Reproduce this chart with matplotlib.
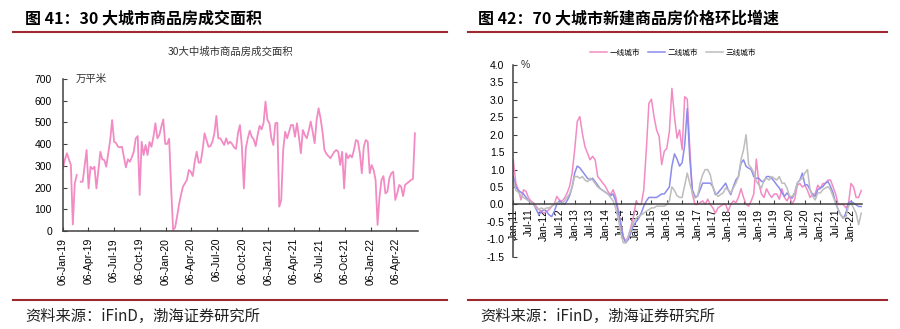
import numpy as np
import pandas as pd
import matplotlib
matplotlib.use("Agg")
import matplotlib.pyplot as plt
from matplotlib.lines import Line2D

# ---------------- data: left chart (weekly, 万平米) ----------------
area_start = "2019-01-06"
area_values = [
    289, 330, 358, 330, 304, 30, 220, 258, np.nan, 227,
    227, 300, 373, 196, 296, 285, 296, 196, 281, 365,
    330, 327, 296, 358, 419, 511, 411, 405, 388, 385,
    388, 340, 293, 330, 319, 339, 365, 427, 437, 166,
    411, 350, 396, 350, 410, 388, 434, 496, 427, 442,
    480, 514, 401, 401, 425, 200, 5, 15, 66, 120,
    166, 204, 220, 235, 281, 273, 253, 319, 365, 315,
    315, 373, 450, 419, 388, 391, 411, 450, 530, 427,
    427, 411, 396, 427, 401, 411, 401, 385, 378, 450,
    488, 388, 196, 381, 427, 462, 434, 422, 391, 442,
    484, 468, 496, 596, 511, 496, 427, 396, 496, 499,
    112, 143, 373, 457, 427, 457, 488, 488, 434, 496,
    434, 358, 465, 442, 427, 462, 504, 457, 404, 511,
    565, 519, 457, 373, 355, 345, 335, 350, 365, 373,
    365, 304, 365, 196, 358, 335, 350, 339, 373, 419,
    414, 358, 266, 388, 419, 411, 266, 304, 281, 235,
    28, 158, 235, 253, 173, 181, 243, 266, 273, 143,
    173, 212, 204, 161, 212, 220, 227, 235, 240, 450,
]
area_ticks = ["2019-01-06", "2019-04-06", "2019-07-06", "2019-10-06",
              "2020-01-06", "2020-04-06", "2020-07-06", "2020-10-06",
              "2021-01-06", "2021-04-06", "2021-07-06", "2021-10-06",
              "2022-01-06", "2022-04-06"]
area_ylim = (0, 700)

# ---------------- data: right chart (monthly MoM %, Jan-11 .. May-22) ----------------
tier1 = [
    1.28, 0.61, 0.42, 0.13, 0.42, 0.37, 0.18, 0.09, 0.04, -0.06,
    -0.15, -0.20, -0.25, -0.20, -0.15, -0.06, 0.00, 0.23, 0.13, 0.09,
    0.18, 0.32, 0.52, 0.90, 1.57, 2.38, 2.52, 2.04, 1.66, 1.47,
    1.28, 1.38, 1.28, 0.80, 0.71, 0.61, 0.52, 0.37, 0.28, 0.42,
    0.23, -0.15, -0.53, -0.92, -1.06, -0.92, -0.63, -0.34, 0.09, 0.00,
    0.00, 0.42, 1.57, 2.90, 3.02, 2.52, 2.14, 1.95, 1.14, 1.52,
    1.61, 2.09, 3.33, 2.52, 1.90, 2.14, 1.57, 3.09, 3.02, 1.60,
    0.30, 0.00, 0.00, 0.05, 0.10, 0.00, 0.15, 0.00, -0.10, -0.25,
    -0.10, -0.05, 0.00, 0.00, -0.20, 0.00, 0.10, 0.05, 0.20, 0.45,
    0.20, 0.00, -0.05, 0.10, 0.30, 1.30, 0.60, 0.30, 0.20, 0.45,
    0.30, 0.20, 0.30, 0.30, 0.15, 0.45, 0.20, 0.10, 0.25, 0.00,
    0.15, 0.55, 0.60, 0.50, 0.55, 0.40, 0.20, 0.30, 0.30, 0.55,
    0.45, 0.60, 0.60, 0.70, 0.70, 0.50, 0.30, 0.00, 0.00, 0.00,
    -0.10, 0.00, 0.60, 0.50, 0.20, 0.20, 0.40,
]
tier2 = [
    0.80, 0.50, 0.40, 0.35, 0.30, 0.20, 0.10, 0.05, 0.00, -0.15,
    -0.30, -0.20, -0.15, -0.20, -0.30, -0.35, -0.20, 0.00, 0.10, 0.05,
    0.00, 0.10, 0.25, 0.50, 0.90, 1.10, 1.05, 0.95, 0.85, 0.75,
    0.70, 0.75, 0.65, 0.55, 0.45, 0.40, 0.35, 0.30, 0.25, 0.30,
    0.10, -0.20, -0.55, -0.95, -1.10, -1.00, -0.80, -0.60, -0.50, -0.40,
    -0.25, -0.05, 0.10, 0.20, 0.20, 0.20, 0.20, 0.25, 0.30, 0.30,
    0.40, 0.50, 1.10, 1.45, 1.30, 1.10, 1.20, 1.70, 2.75, 1.30,
    0.42, 0.23, 0.23, 0.42, 0.61, 0.61, 0.61, 0.61, 0.51, 0.28,
    0.33, 0.42, 0.51, 0.61, 0.42, 0.28, 0.51, 0.70, 0.80, 1.18,
    1.28, 1.09, 1.04, 1.00, 0.80, 0.75, 0.75, 0.66, 0.66, 0.80,
    0.80, 0.75, 0.66, 0.56, 0.47, 0.33, 0.23, 0.33, 0.23, 0.18,
    0.33, 0.61, 0.70, 0.90, 0.56, 0.56, 0.42, 0.28, 0.23, 0.42,
    0.47, 0.51, 0.61, 0.66, 0.51, 0.33, 0.04, -0.15, -0.30, -0.40,
    -0.25, 0.04, 0.09, 0.04, -0.01, -0.06, -0.06,
]
tier3 = [
    0.70, 0.40, 0.35, 0.25, 0.20, 0.15, 0.10, 0.05, 0.00, -0.10,
    -0.15, -0.10, -0.15, -0.10, -0.10, -0.05, 0.00, 0.05, 0.05, 0.00,
    0.10, 0.20, 0.30, 0.50, 0.80, 0.80, 0.75, 0.80, 0.70, 0.65,
    0.75, 0.70, 0.60, 0.50, 0.45, 0.40, 0.35, 0.30, 0.20, 0.10,
    -0.10, -0.40, -0.80, -1.10, -1.10, -0.90, -0.70, -0.50, -0.40, -0.35,
    -0.30, -0.25, -0.20, -0.15, -0.10, -0.10, -0.05, -0.05, -0.05, -0.05,
    0.00, 0.10, 0.50, 0.40, 0.25, 0.20, 0.20, 0.55, 0.90, 0.60,
    0.33, 0.18, 0.23, 0.60, 0.85, 1.00, 1.00, 0.85, 0.50, 0.33,
    0.23, 0.28, 0.33, 0.47, 0.42, 0.33, 0.47, 0.61, 0.80, 1.28,
    1.57, 2.00, 1.14, 1.05, 0.90, 0.66, 0.56, 0.47, 0.70, 0.75,
    0.70, 0.80, 0.75, 0.70, 0.80, 0.61, 0.61, 0.47, 0.23, 0.23,
    0.33, 0.61, 0.70, 0.75, 0.90, 1.00, 0.42, 0.23, 0.13, 0.33,
    0.33, 0.42, 0.47, 0.51, 0.42, 0.23, 0.04, -0.15, -0.30, -0.40,
    -0.34, -0.06, 0.04, -0.10, -0.25, -0.58, -0.25,
]
series_names = ["一线城市", "二线城市", "三线城市"]
month_labels = ["Jan-11", "Jul-11", "Jan-12", "Jul-12", "Jan-13", "Jul-13",
                "Jan-14", "Jul-14", "Jan-15", "Jul-15", "Jan-16", "Jul-16",
                "Jan-17", "Jul-17", "Jan-18", "Jul-18", "Jan-19", "Jul-19",
                "Jan-20", "Jul-20", "Jan-21", "Jul-21", "Jan-22"]
price_yticks = [-1.5, -1.0, -0.5, 0.0, 0.5, 1.0, 1.5, 2.0, 2.5, 3.0, 3.5, 4.0]

# ---------------- style ----------------
W, H = 900, 329
PINK = "#F28BC4"
BLUE = "#8C8CEC"
GRAY = "#BDBDBD"
RED = "#9E2A2F"
AXC = "#404040"
CJK = ["Noto Sans CJK SC", "DejaVu Sans"]
LAT = ["Liberation Sans", "Noto Sans CJK SC"]

fig = plt.figure(figsize=(W / 100, H / 100), dpi=100)
fig.patch.set_facecolor("white")


def px_axes(x0, y0, x1, y1):
    return fig.add_axes([x0 / W, (H - y1) / H, (x1 - x0) / W, (y1 - y0) / H])


def fx(x):
    return x / W


def fy(y):
    return 1 - y / H


# headers, rules and sources
fig.text(fx(25), fy(18), "图 41：30 大城市商品房成交面积", family=CJK,
         fontsize=11.5, fontweight="bold", va="center", ha="left")
fig.text(fx(478), fy(18), "图 42：70 大城市新建商品房价格环比增速", family=CJK,
         fontsize=11.5, fontweight="bold", va="center", ha="left")
for (a, b) in [(13, 447), (468, 887)]:
    for yy in (32, 300):
        fig.add_artist(Line2D([fx(a), fx(b)], [fy(yy), fy(yy)], color=RED, lw=1.5))
fig.text(fx(25), fy(316), "资料来源：iFinD，渤海证券研究所", family=CJK,
         fontsize=11, style="italic", va="center", ha="left", color="#222222")
fig.text(fx(480), fy(316), "资料来源：iFinD，渤海证券研究所", family=CJK,
         fontsize=11, style="italic", va="center", ha="left", color="#222222")

# ---------------- left chart ----------------
ax1 = px_axes(63, 79, 418, 231)
dates = pd.date_range(area_start, periods=len(area_values), freq="7D")
ax1.plot(dates, area_values, color=PINK, lw=1.3)
ax1.set_ylim(*area_ylim)
ax1.set_yticks(np.arange(0, 701, 100))
ax1.set_xlim(pd.Timestamp("2019-01-06"), pd.Timestamp("2022-06-23"))
tick_dates = pd.to_datetime(area_ticks)
ax1.set_xticks(tick_dates)
ax1.set_xticklabels([d.strftime("%d-%b-%y") for d in tick_dates], rotation=90,
                    family=LAT, fontsize=7.5)
for lab in ax1.get_yticklabels():
    lab.set_family(LAT)
    lab.set_fontsize(7.5)
for s in ("top", "right"):
    ax1.spines[s].set_visible(False)
for s in ("left", "bottom"):
    ax1.spines[s].set_color(AXC)
    ax1.spines[s].set_linewidth(1.1)
ax1.tick_params(axis="y", direction="in", length=3, width=0.8, color=AXC, pad=8)
ax1.tick_params(axis="x", direction="in", length=3, width=0.8, color=AXC, pad=5)
ax1.text(0.035, 1.0, "万平米", transform=ax1.transAxes, family=CJK, fontsize=7.5,
         va="center", ha="left", color="#333333")
fig.text(fx(230), fy(52), "30大中城市商品房成交面积", family=CJK, fontsize=7.5,
         va="center", ha="center", color="#333333")

# ---------------- right chart ----------------
ax2 = px_axes(513.3, 65, 862.5, 256.7)
ax2.spines["bottom"].set_position(("data", 0))
for s in ("top", "right"):
    ax2.spines[s].set_visible(False)
for s in ("left", "bottom"):
    ax2.spines[s].set_color(AXC)
    ax2.spines[s].set_linewidth(1.1)
m = np.arange(len(tier1))
for vals, col, name in zip([tier1, tier2, tier3], [PINK, BLUE, GRAY], series_names):
    ax2.plot(m, vals, color=col, lw=1.1, label=name)
ax2.set_ylim(-1.5, 4.0)
ax2.set_xlim(0, 136.5)
ax2.set_yticks(price_yticks)
ax2.set_yticklabels([f"{v:.1f}" for v in price_yticks], family=LAT, fontsize=7.5)
ax2.set_xticks(np.arange(0, 6 * len(month_labels), 6))
ax2.set_xticklabels(month_labels, rotation=90, family=LAT, fontsize=7.5)
ax2.tick_params(axis="y", direction="in", length=3, width=0.8, color=AXC, pad=6.5)
ax2.tick_params(axis="x", direction="in", length=3, width=0.8, color=AXC, pad=3,
                labelrotation=90)
ax2.text(0.02, 1.0, "%", transform=ax2.transAxes, family=LAT, fontsize=7.5,
         va="center", ha="left", color="#333333")
leg = fig.legend(loc="center", bbox_to_anchor=(fx(673), fy(53)), ncol=3, frameon=False,
                 prop={"family": CJK, "size": 5.5}, handlelength=2.2, handletextpad=0.4,
                 columnspacing=1.0)

fig.savefig("out.png", dpi=100, facecolor="white")
